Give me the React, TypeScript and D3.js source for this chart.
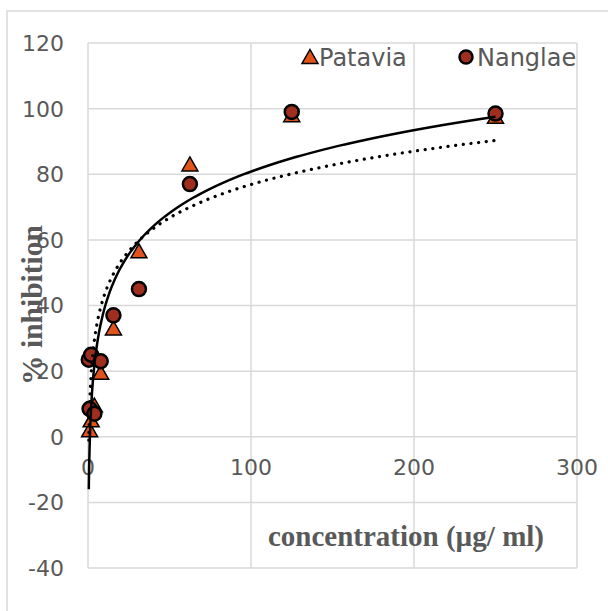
import React from "react";
import * as d3 from "d3";

const pataviaX = [0.98, 1.95, 3.9, 7.8, 15.6, 31.25, 62.5, 125, 250];
const pataviaY = [2, 5, 9.5, 19.5, 33, 56.5, 83, 98, 97.5];
const nanglaeX = [0.49, 1.95, 0.98, 3.9, 7.8, 15.6, 31.25, 62.5, 125, 250];
const nanglaeY = [23.5, 25, 8.5, 7, 23, 37, 45, 77, 99, 98.5];
// log trendlines y = a*ln(x) + b
const trendSolid = [18.2, -3.0];
const trendDotted = [14.65, 9.4];
const trendRange = [0.49, 250];
const xTicks = [0, 100, 200, 300];
const yTicks = [-40, -20, 0, 20, 40, 60, 80, 100, 120];

const W = 608;
const H = 611;
const grey = "#595959";
const grid = "#d9d9d9";

const triPath = (cx: number, cy: number) =>
  `M${cx},${cy - 7.5}L${cx + 8},${cy + 6.5}L${cx - 8},${cy + 6.5}Z`;

const App = () => {
  const x = d3.scaleLinear().domain([0, 300]).range([88, 577]);
  const y = d3.scaleLinear().domain([-40, 120]).range([568, 43]);

  const trend = (c: number[]) => {
    const xs = d3.range(0, 301).map((i) => trendRange[0] * Math.pow(trendRange[1] / trendRange[0], i / 300));
    return d3
      .line<number>()
      .x((v) => x(v))
      .y((v) => y(c[0] * Math.log(v) + c[1]))(xs) as string;
  };

  return (
    <svg width={W} height={H} style={{ position: "absolute", left: 0, top: 0 }}>
      <rect x={0} y={0} width={W} height={H} fill="#fff" />
      <rect x={7} y={11} width={W + 20} height={H + 20} fill="none" stroke={grid} strokeWidth={1.5} />
      {yTicks.map((t) => (
        <line key={"gy" + t} x1={x(0)} x2={x(300)} y1={y(t)} y2={y(t)} stroke={grid} strokeWidth={1.5} />
      ))}
      {xTicks.map((t) => (
        <line key={"gx" + t} x1={x(t)} x2={x(t)} y1={y(120)} y2={y(-40)} stroke={grid} strokeWidth={1.5} />
      ))}
      {yTicks.map((t) => (
        <text key={"ty" + t} x={64} y={y(t)} dy="0.36em" textAnchor="end" fontFamily="DejaVu Sans" fontSize={22} fill={grey}>
          {t}
        </text>
      ))}
      {xTicks.map((t) => (
        <text key={"tx" + t} x={x(t)} y={y(0) + 30} dy="0.36em" textAnchor="middle" fontFamily="DejaVu Sans" fontSize={22} fill={grey}>
          {t}
        </text>
      ))}
      <text x={406} y={546} textAnchor="middle" fontFamily="Liberation Serif" fontWeight="bold" fontSize={29} fill={grey}>
        concentration (µg/ ml)
      </text>
      <text transform="translate(42,305) rotate(-90)" textAnchor="middle" fontFamily="Liberation Serif" fontWeight="bold" fontSize={29.5} fill={grey}>
        % inhibition
      </text>
      {pataviaX.map((v, i) => (
        <path key={"p" + i} d={triPath(x(v), y(pataviaY[i]))} fill="#E2531B" stroke="#000" strokeWidth={1.5} />
      ))}
      {nanglaeX.map((v, i) => (
        <circle key={"n" + i} cx={x(v)} cy={y(nanglaeY[i])} r={7} fill="#A02E1E" stroke="#000" strokeWidth={2.5} />
      ))}
      <path d={trend(trendSolid)} fill="none" stroke="#000" strokeWidth={2.5} />
      <path d={trend(trendDotted)} fill="none" stroke="#000" strokeWidth={3.2} strokeDasharray="0.1 7.6" strokeLinecap="round" />
      <path d={triPath(310, 57)} fill="#E2531B" stroke="#000" strokeWidth={1.5} />
      <text x={319} y={57} dy="0.36em" fontFamily="DejaVu Sans" fontSize={24} fill={grey}>
        Patavia
      </text>
      <circle cx={466} cy={57} r={6.5} fill="#A02E1E" stroke="#000" strokeWidth={2.5} />
      <text x={477} y={57} dy="0.36em" fontFamily="DejaVu Sans" fontSize={24} fill={grey}>
        Nanglae
      </text>
    </svg>
  );
};

export default App;
